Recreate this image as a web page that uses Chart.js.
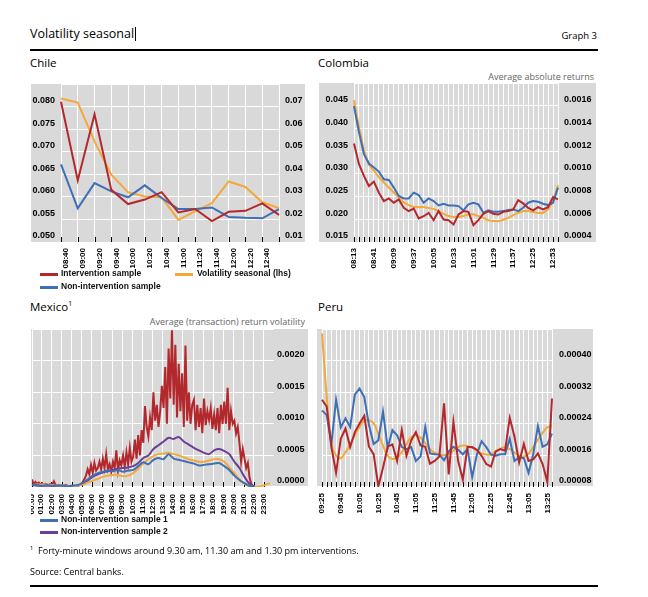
<!DOCTYPE html>
<html>
<head>
<meta charset="utf-8">
<script src="https://cdn.jsdelivr.net/npm/chart.js@4.4.0/dist/chart.umd.min.js"></script>
<style>
  body { margin: 0; width: 648px; height: 597px; position: relative; overflow: hidden; background: #fff; font-family: "Open Sans", sans-serif; color: #000; }
  .abs { position: absolute; white-space: nowrap; }
  .grey { position: absolute; background: #d9d9d9; }
  canvas { position: absolute; }
  .rule { position: absolute; left: 30px; width: 568px; height: 1.5px; background: #000; }
  .panel-title { font-size: 11.5px; }
  .note { font-size: 9px; color: #666; text-align: right; }
  .legend { font-family: Arial, "Liberation Sans", sans-serif; font-size: 8.5px; font-weight: bold; color: #111; }
  .swatch { position: absolute; width: 18px; height: 2.5px; }
  .foot { font-size: 9px; }
</style>
</head>
<body>

<div class="abs" style="left:30px; top:25px; font-size:12.5px;">Volatility seasonal<span style="display:inline-block; width:1px; height:14px; background:#000; vertical-align:-3px; margin-left:1px;"></span></div>
<div class="abs" style="right:51px; top:29px; font-size:9.5px;">Graph 3</div>
<div class="rule" style="top:49px;"></div>

<div class="abs panel-title" style="left:30px; top:55px;">Chile</div>
<div class="abs panel-title" style="left:318px; top:55px;">Colombia</div>
<div class="abs note" style="right:54px; top:70px;">Average absolute returns</div>
<div class="abs panel-title" style="left:30px; top:299px;">Mexico<sup style="font-size:7px;">1</sup></div>
<div class="abs note" style="right:343px; top:315px;">Average (transaction) return volatility</div>
<div class="abs panel-title" style="left:318px; top:299px;">Peru</div>

<div class="grey" style="left:31px; top:84px; width:274px; height:158px;"></div>
<canvas id="chile" width="274" height="192" style="left:31px; top:84px;"></canvas>
<div class="grey" style="left:319px; top:83px; width:277px; height:159px;"></div>
<canvas id="colombia" width="277" height="192" style="left:319px; top:83px;"></canvas>
<div class="grey" style="left:31px; top:329px; width:277px; height:157px;"></div>
<canvas id="mexico" width="277" height="186" style="left:31px; top:329px;"></canvas>
<div class="grey" style="left:317px; top:329px; width:276px; height:157px;"></div>
<canvas id="peru" width="276" height="186" style="left:317px; top:329px;"></canvas>

<div class="swatch" style="left:40px; top:273px; background:#b3282d;"></div>
<div class="abs legend" style="left:61px; top:268px;">Intervention sample</div>
<div class="swatch" style="left:175px; top:273px; background:#f2a93b;"></div>
<div class="abs legend" style="left:197px; top:268px;">Volatility seasonal (lhs)</div>
<div class="swatch" style="left:40px; top:286px; background:#3f6fb5;"></div>
<div class="abs legend" style="left:61px; top:281px;">Non-intervention sample</div>

<div class="swatch" style="left:40px; top:519px; background:#3f6fb5;"></div>
<div class="abs legend" style="left:61px; top:514px;">Non-intervention sample 1</div>
<div class="swatch" style="left:40px; top:531px; background:#6b3f98;"></div>
<div class="abs legend" style="left:61px; top:526px;">Non-intervention sample 2</div>

<div class="abs foot" style="left:30px; top:544px;"><sup style="font-size:6px;">1</sup>&nbsp;&nbsp;Forty-minute windows around 9.30 am, 11.30 am and 1.30 pm interventions.</div>
<div class="abs foot" style="left:30px; top:565px;">Source: Central banks.</div>
<div class="rule" style="top:585px;"></div>

<script>
// Chile, 20-minute windows
const chileTimes = ['08:40', '09:00', '09:20', '09:40', '10:00', '10:20', '10:40', '11:00', '11:20', '11:40', '12:00', '12:20', '12:40', '13:00'];
const chileSeasonal = [0.0818, 0.0809, 0.0723, 0.0649, 0.0610, 0.0601, 0.0599, 0.0549, 0.0568, 0.0586, 0.0634, 0.0622, 0.0588, 0.0575];
const chileIntervention = [0.0721, 0.0373, 0.0666, 0.0331, 0.0268, 0.0288, 0.0321, 0.0231, 0.0246, 0.0193, 0.0234, 0.0238, 0.0271, 0.0220];
const chileNonIntervention = [0.0444, 0.0249, 0.0361, 0.0324, 0.0298, 0.0351, 0.0295, 0.0246, 0.0246, 0.0253, 0.0211, 0.0207, 0.0205, 0.0246];

// Colombia, 7-minute windows
const colombiaTimes = ['08:13', '08:20', '08:27', '08:34', '08:41', '08:48', '08:55', '09:02', '09:09', '09:16', '09:23', '09:30', '09:37', '09:44',
    '09:51', '09:58', '10:05', '10:12', '10:19', '10:26', '10:33', '10:40', '10:47', '10:54', '11:01', '11:08', '11:15', '11:22',
    '11:29', '11:36', '11:43', '11:50', '11:57', '12:04', '12:11', '12:18', '12:25', '12:32', '12:39', '12:46', '12:53', '13:00'];
const colombiaSeasonal = [0.0462, 0.0403, 0.0351, 0.0320, 0.0307, 0.0293, 0.0281, 0.0270, 0.0259, 0.0248, 0.0237, 0.0231, 0.0227, 0.0227,
    0.0227, 0.0225, 0.0223, 0.0218, 0.0212, 0.0207, 0.0205, 0.0205, 0.0207, 0.0211, 0.0211, 0.0207, 0.0203, 0.0198,
    0.0196, 0.0196, 0.0199, 0.0203, 0.0209, 0.0214, 0.0218, 0.0218, 0.0216, 0.0214, 0.0214, 0.0222, 0.0240, 0.0275];
const colombiaIntervention = [0.001268, 0.001085, 0.000982, 0.000893, 0.000932, 0.000834, 0.000760, 0.000784, 0.000746, 0.000775, 0.000701, 0.000672, 0.000695, 0.000607,
    0.000627, 0.000657, 0.000592, 0.000672, 0.000598, 0.000592, 0.000554, 0.000642, 0.000672, 0.000666, 0.000548, 0.000592, 0.000648, 0.000672,
    0.000648, 0.000642, 0.000666, 0.000672, 0.000687, 0.000769, 0.000740, 0.000701, 0.000678, 0.000707, 0.000687, 0.000707, 0.000796, 0.000775];
const colombiaNonIntervention = [0.001596, 0.001366, 0.001174, 0.001091, 0.001056, 0.001020, 0.000952, 0.000946, 0.000879, 0.000805, 0.000784, 0.000784, 0.000834, 0.000814,
    0.000746, 0.000784, 0.000760, 0.000722, 0.000737, 0.000722, 0.000722, 0.000716, 0.000678, 0.000731, 0.000746, 0.000731, 0.000657, 0.000678,
    0.000666, 0.000666, 0.000672, 0.000681, 0.000687, 0.000672, 0.000701, 0.000746, 0.000760, 0.000754, 0.000737, 0.000725, 0.000746, 0.000879];

// Mexico: hour ticks; intervention sample every 10 min from 00:05, the other series every 30 min from 00:05
const mexicoTickLabels = ['00:05', '01:00', '02:00', '03:00', '04:00', '05:00', '06:00', '07:00', '08:00', '09:00', '10:00', '11:00',
    '12:00', '13:00', '14:00', '15:00', '16:00', '17:00', '18:00', '19:00', '20:00', '21:00', '22:00', '23:00'];
const mexicoIntervention = [
    0.00012, 0.00004, 0.00008, 0.00005, 0.00007, 0.00004,
    0.00006, 0.00003, 0.00005, 0.00004, 0.00003, 0.00005,
    0.00004, 0.00009, 0.00003, 0.00002, 0.00003, 0.00002,
    0.00002, 0.00002, 0.00003, 0.00002, 0.00001, 0.00002,
    0.00002, 0.00001, 0.00002, 0.00002, 0.00003, 0.00004,
    0.00008, 0.00012, 0.00018, 0.00028, 0.00020, 0.00035,
    0.00022, 0.00038, 0.00026, 0.00030, 0.00040, 0.00028,
    0.00045, 0.00030, 0.00052, 0.00028, 0.00036, 0.00024,
    0.00040, 0.00030, 0.00058, 0.00026, 0.00042, 0.00034,
    0.00050, 0.00032, 0.00055, 0.00036, 0.00062, 0.00040,
    0.00048, 0.00075, 0.00045, 0.00082, 0.00050, 0.00090,
    0.00070, 0.00128, 0.00095, 0.00080, 0.00110, 0.00090,
    0.00150, 0.00105, 0.00130, 0.00095, 0.00120, 0.00160,
    0.00125, 0.00190, 0.00100, 0.00219, 0.00140, 0.00248,
    0.00130, 0.00225, 0.00110, 0.00195, 0.00120, 0.00180,
    0.00095, 0.00224, 0.00105, 0.00150, 0.00100, 0.00130,
    0.00138, 0.00090, 0.00130, 0.00095, 0.00125, 0.00085,
    0.00140, 0.00098, 0.00120, 0.00106, 0.00125, 0.00092,
    0.00115, 0.00090, 0.00125, 0.00085, 0.00130, 0.00100,
    0.00135, 0.00100, 0.00157, 0.00090, 0.00120, 0.00100,
    0.00105, 0.00085, 0.00095, 0.00070, 0.00040, 0.00060,
    0.00045, 0.00030, 0.00038, 0.00015, 0.00005, 0.00001];
const mexicoNonIntervention1 = [0.00003, 0.00003, 0.00002, 0.00003, 0.00002, 0.00002, 0.00002, 0.00001, 0.00002, 0.00003,
    0.00006, 0.00012, 0.00018, 0.00022, 0.00024, 0.00026, 0.00025, 0.00027, 0.00024, 0.00026,
    0.00027, 0.00033, 0.00039, 0.00036, 0.00043, 0.00046, 0.00044, 0.00052, 0.00045, 0.00043,
    0.00041, 0.00039, 0.00037, 0.00034, 0.00035, 0.00036, 0.00037, 0.00038, 0.00033, 0.00027,
    0.00018, 0.00011, 0.00006, 0.00002, 0.00001];
const mexicoNonIntervention2 = [0.00003, 0.00002, 0.00002, 0.00002, 0.00002, 0.00001, 0.00001, 0.00001, 0.00001, 0.00002,
    0.00005, 0.00010, 0.00016, 0.00020, 0.00023, 0.00025, 0.00027, 0.00029, 0.00030, 0.00031,
    0.00033, 0.00038, 0.00046, 0.00050, 0.00060, 0.00066, 0.00072, 0.00078, 0.00076, 0.00079,
    0.00072, 0.00067, 0.00062, 0.00058, 0.00054, 0.00052, 0.00058, 0.00060, 0.00057, 0.00052,
    0.00040, 0.00030, 0.00016, 0.00005, 0.00001];
const mexicoSeasonal = [0.00003, 0.00004, 0.00004, 0.00004, 0.00003, 0.00002, 0.00002, 0.00001, 0.00001, 0.00002,
    0.00004, 0.00007, 0.00010, 0.00013, 0.00016, 0.00018, 0.00019, 0.00019, 0.00017, 0.00018,
    0.00022, 0.00029, 0.00037, 0.00044, 0.00049, 0.00052, 0.00053, 0.00054, 0.00052, 0.00050,
    0.00047, 0.00044, 0.00042, 0.00040, 0.00040, 0.00042, 0.00044, 0.00044, 0.00040, 0.00031,
    0.00022, 0.00012, 0.00005, 0.00001, 0.00000, 0.00001, 0.00003, 0.00006];

// Peru, 5-minute windows
const peruTimes = ['09:25', '09:30', '09:35', '09:40', '09:45', '09:50', '09:55', '10:00', '10:05', '10:10', '10:15', '10:20', '10:25',
    '10:30', '10:35', '10:40', '10:45', '10:50', '10:55', '11:00', '11:05', '11:10', '11:15', '11:20', '11:25', '11:30', '11:35',
    '11:40', '11:45', '11:50', '11:55', '12:00', '12:05', '12:10', '12:15', '12:20', '12:25', '12:30', '12:35', '12:40', '12:45',
    '12:50', '12:55', '13:00', '13:05', '13:10', '13:15', '13:20', '13:25', '13:30'];
const peruIntervention = [0.000301, 0.000284, 0.000181, 0.000116, 0.000202, 0.000228, 0.000181, 0.000219, 0.000241, 0.000260,
    0.000182, 0.000163, 0.000082, 0.000129, 0.000182, 0.000188, 0.000146, 0.000224, 0.000159, 0.000198,
    0.000219, 0.000185, 0.000182, 0.000139, 0.000146, 0.000157, 0.000292, 0.000112, 0.000245, 0.000146,
    0.000099, 0.000181, 0.000181, 0.000174, 0.000159, 0.000138, 0.000132, 0.000170, 0.000176, 0.000172,
    0.000255, 0.000208, 0.000142, 0.000189, 0.000146, 0.000150, 0.000165, 0.000138, 0.000093, 0.000304];
const peruNonIntervention = [0.000274, 0.000262, 0.000189, 0.000301, 0.000231, 0.000254, 0.000232, 0.000314, 0.000329, 0.000308,
    0.000237, 0.000189, 0.000198, 0.000271, 0.000179, 0.000224, 0.000211, 0.000181, 0.000176, 0.000181,
    0.000146, 0.000157, 0.000232, 0.000165, 0.000163, 0.000162, 0.000148, 0.000170, 0.000182, 0.000174,
    0.000163, 0.000176, 0.000105, 0.000163, 0.000196, 0.000181, 0.000162, 0.000159, 0.000163, 0.000163,
    0.000202, 0.000146, 0.000155, 0.000153, 0.000116, 0.000163, 0.000234, 0.000182, 0.000188, 0.000215];
const peruSeasonal = [0.000469, 0.000310, 0.000189, 0.000159, 0.000153, 0.000168, 0.000189, 0.000211, 0.000232, 0.000248,
    0.000249, 0.000241, 0.000215, 0.000185, 0.000159, 0.000151, 0.000155, 0.000168, 0.000189, 0.000206,
    0.000211, 0.000205, 0.000191, 0.000176, 0.000167, 0.000162, 0.000161, 0.000165, 0.000172, 0.000181,
    0.000185, 0.000184, 0.000179, 0.000172, 0.000165, 0.000162, 0.000163, 0.000170, 0.000177, 0.000181,
    0.000176, 0.000167, 0.000159, 0.000157, 0.000165, 0.000181, 0.000200, 0.000217, 0.000231, 0.000234];

const RED = '#b3282d';
const BLUE = '#3f6fb5';
const ORANGE = '#f2a93b';
const PURPLE = '#6b3f98';
const GRID = '#ffffff';
const TICK_FONT = { family: 'Arial, "Liberation Sans", sans-serif', size: 9, weight: 'bold' };
const X_FONT = { family: 'Arial, "Liberation Sans", sans-serif', size: 8, weight: 'bold' };

// Excel style: short tick marks pointing up into the plot
const innerTicks = {
    id: 'innerTicks',
    beforeDatasetsDraw(chart) {
        const x = chart.scales.x;
        const area = chart.chartArea;
        const ctx = chart.ctx;
        ctx.save();
        ctx.strokeStyle = '#000';
        ctx.lineWidth = 1;
        x.ticks.forEach((t, i) => {
            const px = Math.round(x.getPixelForTick(i)) + 0.5;
            ctx.beginPath();
            ctx.moveTo(px, area.bottom);
            ctx.lineTo(px, area.bottom - 5);
            ctx.stroke();
        });
        ctx.restore();
    }
};

// pin axis size so the plot area lands where the picture has it
function fixedSize(size) {
    return function (scale) {
        if (scale.isHorizontal()) {
            scale.height = size;
        } else {
            scale.width = size;
        }
        scale.paddingTop = 0;
        scale.paddingBottom = 0;
        scale.paddingLeft = 0;
        scale.paddingRight = 0;
    };
}

function line(label, data, color, axis, tension) {
    return {
        label: label,
        data: data,
        yAxisID: axis,
        borderColor: color,
        backgroundColor: color,
        borderWidth: 2,
        pointRadius: 0,
        tension: tension || 0,
        fill: false
    };
}

function xCategory(height, showLabel, offset) {
    return {
        type: 'category',
        offset: false,
        grid: { color: GRID, drawTicks: false },
        border: { display: false },
        ticks: {
            autoSkip: false,
            minRotation: 90,
            maxRotation: 90,
            padding: 6,
            labelOffset: offset || 0,
            color: '#000',
            font: X_FONT,
            callback: function (value, index) {
                return showLabel(index) ? this.getLabelForValue(value) : '';
            }
        },
        afterFit: fixedSize(height)
    };
}

function yAxis(position, min, max, step, digits, width, showGrid, pad) {
    return {
        position: position,
        min: min,
        max: max,
        grid: { display: showGrid, color: GRID, drawTicks: false },
        border: { display: false },
        ticks: {
            stepSize: step,
            padding: pad,
            labelOffset: -6,
            color: '#000',
            font: TICK_FONT,
            callback: v => (v > max - step / 2 ? '' : v.toFixed(digits))
        },
        afterFit: fixedSize(width)
    };
}

const baseOptions = {
    responsive: false,
    animation: false,
    plugins: { legend: { display: false }, tooltip: { enabled: false } }
};

new Chart(document.getElementById('chile'), {
    type: 'line',
    data: {
        labels: chileTimes,
        datasets: [
            line('Intervention sample', chileIntervention, RED, 'yR'),
            line('Non-intervention sample', chileNonIntervention, BLUE, 'yR'),
            line('Volatility seasonal (lhs)', chileSeasonal, ORANGE, 'yL')
        ]
    },
    options: Object.assign({}, baseOptions, {
        layout: { padding: 0 },
        scales: {
            // the last window (13:00) carries no label in the original
            x: xCategory(34, i => i < chileTimes.length - 1, 5),
            yL: yAxis('left', 0.05, 0.085, 0.005, 3, 30, true, 6),
            yR: yAxis('right', 0.01, 0.08, 0.01, 2, 26, false, 6)
        }
    }),
    plugins: [innerTicks]
});

new Chart(document.getElementById('colombia'), {
    type: 'line',
    data: {
        labels: colombiaTimes,
        datasets: [
            line('Intervention sample', colombiaIntervention, RED, 'yR'),
            line('Non-intervention sample', colombiaNonIntervention, BLUE, 'yR'),
            line('Volatility seasonal (lhs)', colombiaSeasonal, ORANGE, 'yL')
        ]
    },
    options: Object.assign({}, baseOptions, {
        layout: { padding: 0 },
        scales: {
            x: xCategory(33, i => i % 4 === 0, 0),
            yL: yAxis('left', 0.015, 0.05, 0.005, 3, 35, true, 6),
            yR: yAxis('right', 0.0004, 0.0018, 0.0002, 4, 38, false, 6)
        }
    }),
    plugins: [innerTicks]
});

const mexicoTickMinutes = mexicoTickLabels.map(s => Number(s.slice(0, 2)) * 60 + Number(s.slice(3)));
const every10 = (arr) => arr.map((v, i) => ({ x: 5 + 10 * i, y: v }));
const every30 = (arr) => arr.map((v, i) => ({ x: 5 + 30 * i, y: v }));

new Chart(document.getElementById('mexico'), {
    type: 'line',
    data: {
        datasets: [
            line('Non-intervention sample 1', every30(mexicoNonIntervention1), BLUE, 'y', 0.3),
            line('Volatility seasonal', every30(mexicoSeasonal), ORANGE, 'y', 0.4),
            line('Non-intervention sample 2', every30(mexicoNonIntervention2), PURPLE, 'y', 0.3),
            line('Intervention sample', every10(mexicoIntervention), RED, 'y')
        ]
    },
    options: Object.assign({}, baseOptions, {
        layout: { padding: { left: 1 } },
        scales: {
            x: {
                type: 'linear',
                min: 5,
                max: 1440,
                grid: { color: GRID, drawTicks: false },
                border: { display: false },
                afterBuildTicks: scale => {
                    scale.ticks = mexicoTickMinutes.map(v => ({ value: v }));
                },
                ticks: {
                    autoSkip: false,
                    minRotation: 90,
                    maxRotation: 90,
                    padding: 7,
                    color: '#000',
                    font: X_FONT,
                    callback: (value, index) => mexicoTickLabels[index]
                },
                afterFit: fixedSize(28)
            },
            y: yAxis('right', 0, 0.0025, 0.0005, 4, 34, true, 3)
        }
    }),
    plugins: [innerTicks]
});

new Chart(document.getElementById('peru'), {
    type: 'line',
    data: {
        labels: peruTimes,
        datasets: [
            line('Intervention sample', peruIntervention, RED, 'y'),
            line('Non-intervention sample', peruNonIntervention, BLUE, 'y'),
            line('Volatility seasonal', peruSeasonal, ORANGE, 'y', 0.4)
        ]
    },
    options: Object.assign({}, baseOptions, {
        layout: { padding: { left: 5 } },
        scales: {
            x: xCategory(28, i => i % 4 === 0, 0),
            y: yAxis('right', 0.00008, 0.00048, 0.00008, 5, 41, true, 7)
        }
    }),
    plugins: [innerTicks]
});
</script>
</body>
</html>
